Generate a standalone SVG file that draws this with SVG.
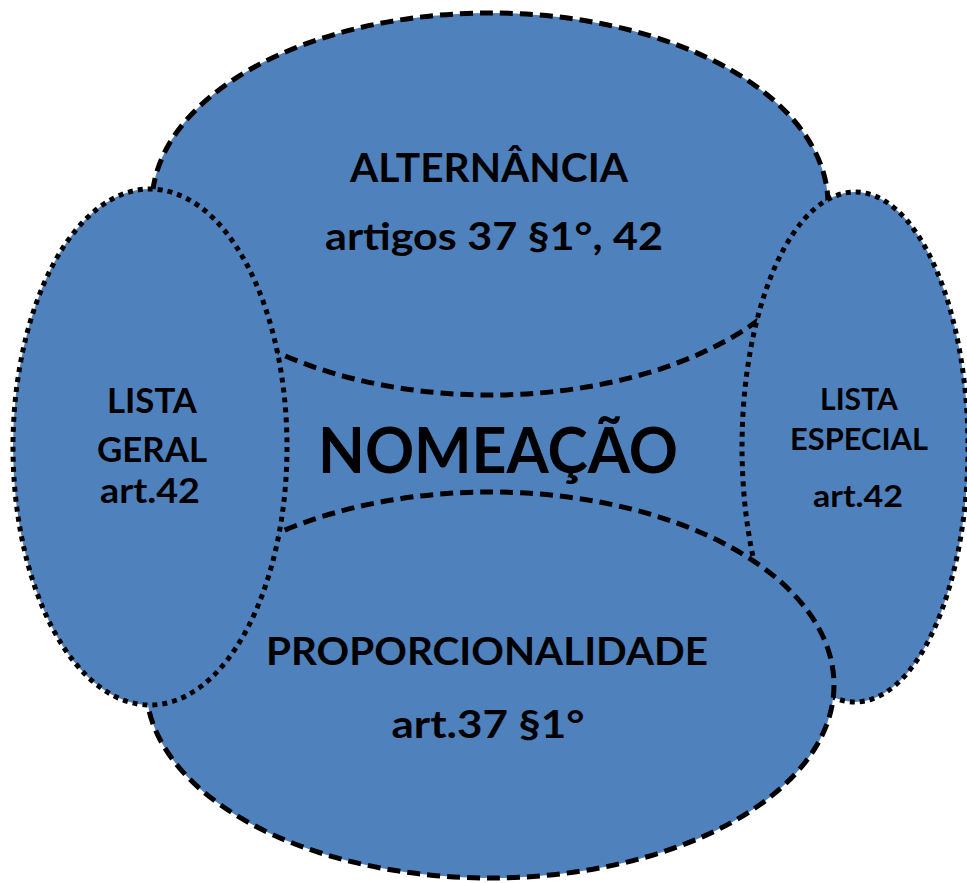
<svg xmlns="http://www.w3.org/2000/svg" width="967" height="883" viewBox="0 0 967 883">
<style>
.shape{fill:#4F81BD;stroke:#000;stroke-width:5;stroke-linecap:butt}
.dash{stroke-dasharray:13 7}
.dot{stroke-dasharray:5 5}
text{font-family:Lato,"Open Sans","Liberation Sans",sans-serif;font-weight:bold;fill:#000;text-anchor:middle}
</style>
<rect x="270" y="300" width="490" height="270" fill="#4F81BD"/>
<g id="alternancia">
<ellipse class="shape dash" cx="490" cy="204" rx="338" ry="191"/>
<text x="489" y="182" font-size="40" textLength="278" lengthAdjust="spacingAndGlyphs">ALTERNÂNCIA</text>
<text x="494" y="250" font-size="38" textLength="338" lengthAdjust="spacingAndGlyphs">artigos 37 §1°, 42</text>
</g>
<g id="lista-especial">
<ellipse class="shape dot" cx="855" cy="447" rx="113" ry="255"/>
<text x="859" y="410" font-size="31" textLength="78" lengthAdjust="spacingAndGlyphs">LISTA</text>
<text x="859" y="450" font-size="31" textLength="138" lengthAdjust="spacingAndGlyphs">ESPECIAL</text>
<text x="858" y="507" font-size="31" textLength="90" lengthAdjust="spacingAndGlyphs">art.42</text>
</g>
<g id="proporcionalidade">
<ellipse class="shape dash" cx="490" cy="685" rx="344" ry="193"/>
<text x="487" y="665" font-size="39" textLength="442" lengthAdjust="spacingAndGlyphs">PROPORCIONALIDADE</text>
<text x="488" y="738" font-size="39" textLength="193" lengthAdjust="spacingAndGlyphs">art.37 §1°</text>
</g>
<g id="lista-geral">
<ellipse class="shape dot" cx="150" cy="447" rx="137" ry="258"/>
<text x="152" y="413" font-size="35" textLength="90" lengthAdjust="spacingAndGlyphs">LISTA</text>
<text x="152" y="462" font-size="35" textLength="110" lengthAdjust="spacingAndGlyphs">GERAL</text>
<text x="150" y="503" font-size="35" textLength="100" lengthAdjust="spacingAndGlyphs">art.42</text>
</g>
<g id="nomeacao">
<text x="498" y="473" font-size="64" textLength="360" lengthAdjust="spacingAndGlyphs">NOMEAÇÃO</text>
</g>
<g id="connectors"></g>
</svg>
